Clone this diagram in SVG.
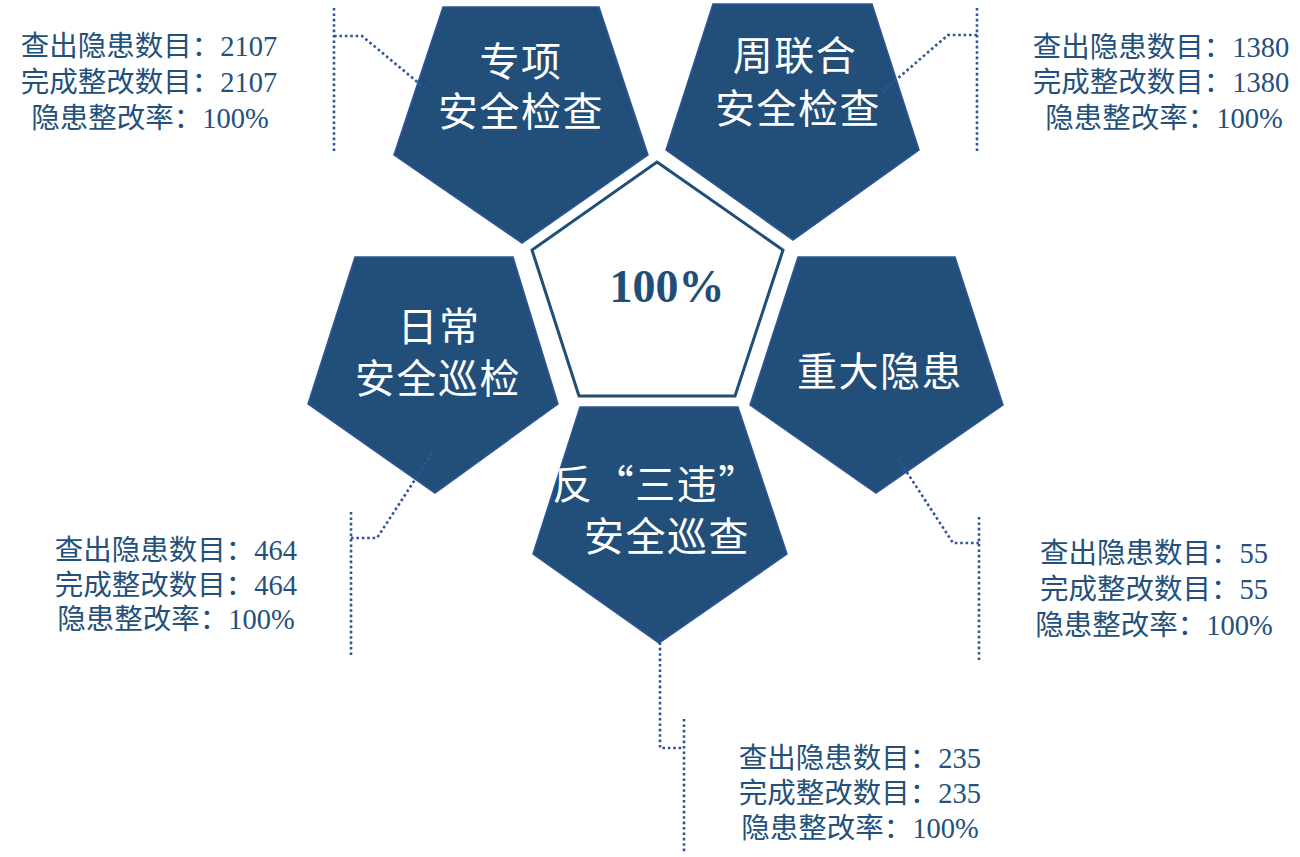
<svg xmlns="http://www.w3.org/2000/svg" width="1300" height="857" viewBox="0 0 1300 857">
<style>
.pent{fill:#224f7a;stroke:#2e5597;stroke-width:1.5}
.center{fill:#ffffff;stroke:#1f4e79;stroke-width:3}
.ptxt{fill:#ffffff;font-family:"Noto Sans CJK SC",sans-serif;font-size:40px;letter-spacing:1.5px;text-anchor:middle}
.big{fill:#1f4e79;font-family:"Liberation Serif",serif;font-weight:bold;font-size:46px;text-anchor:middle}
.info{fill:#24507c;font-family:"Liberation Serif","Noto Sans CJK SC",serif;font-size:28.5px;text-anchor:middle}
.dot{fill:none;stroke:#2f5597;stroke-width:2.6;stroke-dasharray:2.6 2.8}
</style>
<rect width="1300" height="857" fill="#ffffff"/>
<g id="center-node">
<polygon class="center" points="657,162 783,250 735,396 579,396 532,250"/>
<text class="big" x="667" y="302">100%</text>
</g>
<g id="node-zhuanxiang">
<polygon class="pent" points="443,7 599,7 648,155 522,243 394,155"/>
<text class="ptxt" x="521" y="76">专项</text>
<text class="ptxt" x="521" y="126">安全检查</text>
</g>
<g id="node-zhoulianhe">
<polygon class="pent" points="713,4 872,4 919,150 793,240 666,150"/>
<text class="ptxt" x="795" y="70">周联合</text>
<text class="ptxt" x="798" y="123">安全检查</text>
</g>
<g id="node-richang">
<polygon class="pent" points="355,257 513,257 558,404 435,493 308,404"/>
<text class="ptxt" x="439" y="341">日常</text>
<text class="ptxt" x="438" y="393">安全巡检</text>
</g>
<g id="node-zhongda">
<polygon class="pent" points="798,257 955,257 1003,405 876,493 750,405"/>
<text class="ptxt" x="880" y="386">重大隐患</text>
</g>
<g id="node-fansanwei">
<polygon class="pent" points="580,407 738,407 787,554 659,643 533,554"/>
<text class="ptxt" x="656" y="499">反“三违”</text>
<text class="ptxt" x="667" y="551">安全巡查</text>
</g>
<g id="connectors">
<polyline class="dot" points="334,8 334,153"/>
<polyline class="dot" points="334,36 362,36 427,90"/>
<polyline class="dot" points="977,8 977,153"/>
<polyline class="dot" points="977,35 948,35 882,92"/>
<polyline class="dot" points="351,512 351,657"/>
<polyline class="dot" points="351,538 377,538 433,452"/>
<polyline class="dot" points="979,517 979,660"/>
<polyline class="dot" points="979,543 953,543 897,457"/>
<polyline class="dot" points="660,637 660,748 684,748"/>
<polyline class="dot" points="684,719 684,853"/>
</g>
<g id="info-zhuanxiang">
<text class="info" x="149" y="56">查出隐患数目：2107</text>
<text class="info" x="149" y="92">完成整改数目：2107</text>
<text class="info" x="150" y="128">隐患整改率：100%</text>
</g>
<g id="info-zhoulianhe">
<text class="info" x="1161" y="57">查出隐患数目：1380</text>
<text class="info" x="1161" y="92">完成整改数目：1380</text>
<text class="info" x="1164" y="128">隐患整改率：100%</text>
</g>
<g id="info-richang">
<text class="info" x="176" y="560">查出隐患数目：464</text>
<text class="info" x="176" y="595">完成整改数目：464</text>
<text class="info" x="176" y="629">隐患整改率：100%</text>
</g>
<g id="info-zhongda">
<text class="info" x="1154" y="563">查出隐患数目：55</text>
<text class="info" x="1154" y="599">完成整改数目：55</text>
<text class="info" x="1154" y="635">隐患整改率：100%</text>
</g>
<g id="info-fansanwei">
<text class="info" x="860" y="768">查出隐患数目：235</text>
<text class="info" x="860" y="803">完成整改数目：235</text>
<text class="info" x="860" y="838">隐患整改率：100%</text>
</g>
</svg>
